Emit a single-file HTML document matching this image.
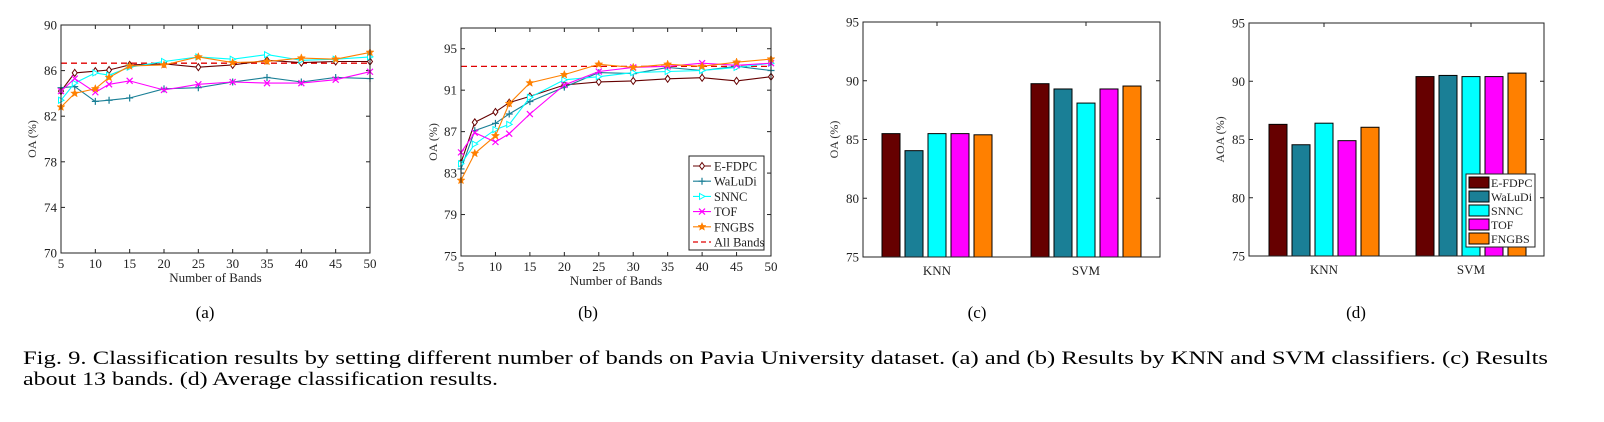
<!DOCTYPE html>
<html><head><meta charset="utf-8"><style>
body{margin:0;background:#fff;}
svg{display:block;font-family:"Liberation Serif",serif;}
</style></head><body>
<svg id="fig" width="1604" height="422" viewBox="0 0 1604 422" xmlns="http://www.w3.org/2000/svg">
<g id="root"></g>
<text x="205" y="318" font-size="17" text-anchor="middle">(a)</text>
<text x="588" y="318" font-size="17" text-anchor="middle">(b)</text>
<text x="977" y="318" font-size="17" text-anchor="middle">(c)</text>
<text x="1356" y="318" font-size="17" text-anchor="middle">(d)</text>
<text x="23" y="364" font-size="19" textLength="1525" lengthAdjust="spacingAndGlyphs">Fig. 9.  Classification results by setting different number of bands on Pavia University dataset. (a) and (b) Results by KNN and SVM classifiers. (c) Results</text>
<text x="23" y="385" font-size="19" textLength="475" lengthAdjust="spacingAndGlyphs">about 13 bands. (d) Average classification results.</text>
</svg>
<script>
const bandsX = [5,7,10,12,15,20,25,30,35,40,45,50];
const methods = ["E-FDPC","WaLuDi","SNNC","TOF","FNGBS"];
const colors = ["#660000","#1a7f96","#00ffff","#ff00ff","#ff8000"];
const knnEFDPC = [84.2,85.8,85.95,86.05,86.5,86.6,86.3,86.5,86.9,86.7,86.8,86.8];
const knnWaLuDi = [84.5,84.6,83.3,83.4,83.6,84.4,84.5,85.0,85.4,85.0,85.4,85.3];
const knnSNNC = [83.4,84.9,85.8,85.6,86.3,86.8,87.2,87.0,87.4,86.9,87.0,87.2];
const knnTOF = [84.2,85.3,84.1,84.8,85.1,84.3,84.8,85.0,84.9,84.9,85.2,85.9];
const knnFNGBS = [82.8,84.0,84.4,85.4,86.4,86.5,87.2,86.7,86.8,87.1,87.0,87.6];
const knnAllBands = 86.65;
const svmEFDPC = [84.0,87.9,88.9,89.8,90.4,91.5,91.8,91.9,92.1,92.2,91.9,92.3];
const svmWaLuDi = [83.4,87.1,87.8,88.7,89.9,91.3,92.7,92.6,93.2,92.9,93.3,92.9];
const svmSNNC = [83.9,85.8,87.2,87.7,90.3,92.0,92.3,92.7,92.8,92.9,93.2,93.6];
const svmTOF = [85.0,86.9,86.0,86.8,88.7,91.5,92.8,93.2,93.3,93.6,93.4,93.6];
const svmFNGBS = [82.3,84.9,86.6,89.7,91.7,92.5,93.5,93.2,93.5,93.3,93.7,94.0];
const svmAllBands = 93.3;
const barGroups = ["KNN","SVM"];
const oa13KNN = [85.5,84.05,85.5,85.5,85.4];
const oa13SVM = [89.75,89.3,88.1,89.3,89.55];
const aoaKNN = [86.3,84.55,86.4,84.9,86.05];
const aoaSVM = [90.4,90.5,90.4,90.4,90.7];
const ticksA = [70,74,78,82,86,90];
const ticksB = [75,79,83,87,91,95];
const ticksBar = [75,80,85,90,95];
const ticksX = [5,10,15,20,25,30,35,40,45,50];

const NS="http://www.w3.org/2000/svg";
const root=document.getElementById('root');
function mk(tag,attrs,parent,text){const e=document.createElementNS(NS,tag);for(const k in attrs)e.setAttribute(k,attrs[k]);if(text!==undefined)e.textContent=text;(parent||root).appendChild(e);return e;}

function frame(g,L,R,T,B,name){
  const r=mk('rect',{x:L,y:T,width:R-L,height:B-T,fill:'none',stroke:'#222','stroke-width':1},g);
  
  
}
function yAxis(g,L,R,ticks,ys,name,label,lx,cy){
  ticks.forEach(t=>{const y=ys(t);
    mk('line',{x1:L,x2:L+4,y1:y,y2:y,stroke:'#222'},g);
    mk('line',{x1:R,x2:R-4,y1:y,y2:y,stroke:'#222'},g);
    const tx=mk('text',{x:L-4,y:y+4.5,'font-size':13,'text-anchor':'end',fill:'#222'},g,String(t));
    
    
  });
  const yl=mk('text',{x:lx,y:cy,'font-size':12,'text-anchor':'middle',fill:'#333',transform:`rotate(-90 ${lx} ${cy})`},g,label);
  
  
}
function marker(g,type,x,y,c){
  if(type===0) mk('path',{d:`M${x} ${y-3.5}L${x+2.5} ${y}L${x} ${y+3.5}L${x-2.5} ${y}Z`,fill:'#fff',stroke:c,'stroke-width':1},g);
  else if(type===1) mk('path',{d:`M${x-3.5} ${y}H${x+3.5}M${x} ${y-3.5}V${y+3.5}`,stroke:c,'stroke-width':1.2},g);
  else if(type===2) mk('path',{d:`M${x-2.5} ${y-3}L${x+3} ${y}L${x-2.5} ${y+3}Z`,fill:'#fff',stroke:c,'stroke-width':1},g);
  else if(type===3) mk('path',{d:`M${x-3} ${y-3}L${x+3} ${y+3}M${x+3} ${y-3}L${x-3} ${y+3}`,stroke:c,'stroke-width':1.2},g);
  else { let p='';for(let i=0;i<10;i++){const a=-Math.PI/2+i*Math.PI/5;const r=i%2?1.8:4.2;p+=(i?'L':'M')+(x+r*Math.cos(a)).toFixed(2)+' '+(y+r*Math.sin(a)).toFixed(2);}
    mk('path',{d:p+'Z',fill:c,stroke:c,'stroke-width':0.5},g);}
}
function lineChart(name,L,R,T,B,ymin,ymax,ticks,series,allBands,legend,ylx){
  const g=mk('g',{});
  
  
  const xs=v=>L+(v-5)/45*(R-L), ys=v=>B-(v-ymin)/(ymax-ymin)*(B-T);
  ticksX.forEach(t=>{const x=xs(t);
    mk('line',{x1:x,x2:x,y1:B,y2:B-4,stroke:'#222'},g);
    mk('line',{x1:x,x2:x,y1:T,y2:T+4,stroke:'#222'},g);
    const tx=mk('text',{x:x,y:B+15,'font-size':13,'text-anchor':'middle',fill:'#222'},g,String(t));
    
    
  });
  yAxis(g,L,R,ticks,ys,name,'OA  (%)',ylx,(T+B)/2);
  const xl=mk('text',{x:(L+R)/2,y:B+29,'font-size':13,'text-anchor':'middle',fill:'#222'},g,'Number of Bands');
  
  
  const ab=mk('line',{x1:L,x2:R,y1:ys(allBands),y2:ys(allBands),stroke:'#e00000','stroke-width':1.3,'stroke-dasharray':'6 4'},g);
  
  
  series.forEach((s,i)=>{
    const pts=s.map((v,j)=>xs(bandsX[j]).toFixed(1)+','+ys(v).toFixed(1)).join(' ');
    const pl=mk('polyline',{points:pts,fill:'none',stroke:colors[i],'stroke-width':1.1},g);
    
    
    s.forEach((v,j)=>marker(g,i,xs(bandsX[j]),ys(v),colors[i]));
  });
  frame(g,L,R,T,B,name);
  if(legend){
    const lg=mk('g',{},g);
    
    
    const lx=legend[0],ly=legend[1];
    mk('rect',{x:lx,y:ly,width:75,height:94,fill:'#fff',stroke:'#222'},lg);
    const labels=methods.concat(['All Bands']);
    labels.forEach((lab,i)=>{const y=ly+10+i*15.2;
      const e=mk('g',{},lg);
      
      
      if(i<5){mk('line',{x1:lx+4,x2:lx+22,y1:y,y2:y,stroke:colors[i],'stroke-width':1.1},e);marker(e,i,lx+13,y,colors[i]);}
      else mk('line',{x1:lx+4,x2:lx+22,y1:y,y2:y,stroke:'#e00000','stroke-width':1.3,'stroke-dasharray':'5 3'},e);
      mk('text',{x:lx+25,y:y+4.5,'font-size':12.5,fill:'#222'},e,lab);
    });
  }
}
function barChart(name,L,R,T,B,knn,svm,starts,ylabel,ylx,legend){
  const g=mk('g',{});
  
  
  const ys=v=>B-(v-75)/20*(B-T);
  yAxis(g,L,R,ticksBar,ys,name,ylabel,ylx,(T+B)/2);
  [knn,svm].forEach((vals,gi)=>{
    const x0=starts[gi];
    const cx=x0+2*23+9;
    mk('line',{x1:cx,x2:cx,y1:B,y2:B-4,stroke:'#222'},g);
    mk('line',{x1:cx,x2:cx,y1:T,y2:T+4,stroke:'#222'},g);
    vals.forEach((v,i)=>{
      const r=mk('rect',{x:x0+i*23,y:ys(v),width:18,height:B-ys(v),fill:colors[i],stroke:'#000','stroke-width':1},g);
      
      
    });
    const t=mk('text',{x:cx,y:B+18,'font-size':13,'text-anchor':'middle',fill:'#222'},g,barGroups[gi]);
    
    
  });
  frame(g,L,R,T,B,name);
  if(legend){
    const lg=mk('g',{},g);
    
    
    const lx=legend[0],ly=legend[1];
    mk('rect',{x:lx,y:ly,width:69,height:73,fill:'#fff',stroke:'#222'},lg);
    methods.forEach((m,i)=>{const y=ly+3+i*14;
      const e=mk('g',{},lg);
      
      
      mk('rect',{x:lx+3,y:y,width:20,height:11,fill:colors[i],stroke:'#000'},e);
      mk('text',{x:lx+25,y:y+10,'font-size':12,fill:'#222'},e,m);
    });
  }
}
lineChart('chart-a-knn',61,370,25,253,70,90,ticksA,[knnEFDPC,knnWaLuDi,knnSNNC,knnTOF,knnFNGBS],knnAllBands,null,36);
lineChart('chart-b-svm',461,771,28,256,75,97,ticksB,[svmEFDPC,svmWaLuDi,svmSNNC,svmTOF,svmFNGBS],svmAllBands,[689,156],437);
barChart('chart-c-oa13',863,1160,22,257,oa13KNN,oa13SVM,[882,1031],'OA (%)',838,null);
barChart('chart-d-aoa',1249,1544,23,256,aoaKNN,aoaSVM,[1269,1416],'AOA (%)',1224,[1466,174]);
</script>
</body></html>
